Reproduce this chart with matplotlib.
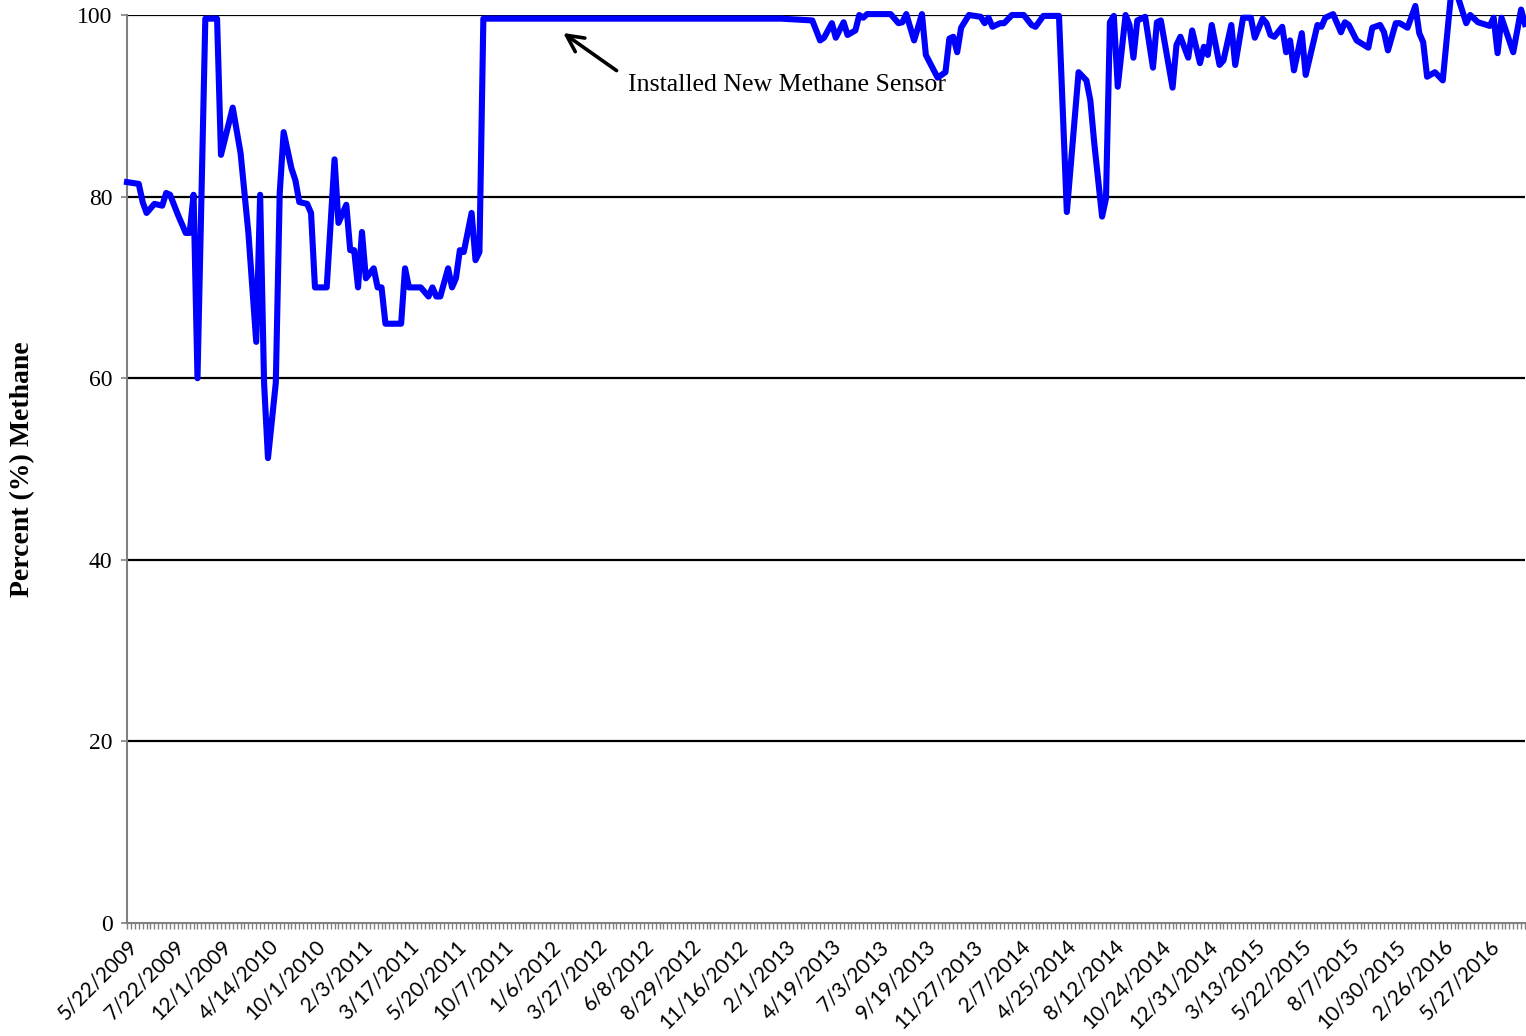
import matplotlib
matplotlib.use("Agg")
import matplotlib.pyplot as plt
import numpy as np

# sample index (one category per reading) and percent methane
idx = [0, 3, 4, 5, 7, 9, 10, 11, 13, 15, 16, 17, 18, 20, 23, 24, 27, 29, 31, 33,
       34, 35, 36, 38, 39, 40, 42, 43, 44, 46, 47, 48, 51, 53, 54, 56, 57, 58, 59, 60,
       61, 63, 64, 65, 66, 70, 71, 72, 75, 77, 78, 79, 80, 82, 83, 84, 85, 86, 88, 89,
       90, 91, 167, 175, 177, 178, 180, 181, 183, 184, 186, 187, 188, 189, 195, 197, 198, 199, 201, 203,
       204, 207, 209, 210, 211, 212, 213, 215, 218, 219, 220, 221, 223, 224, 226, 229, 231, 232, 234, 238,
       240, 243, 245, 246, 247, 249, 250, 251, 252, 253, 255, 256, 257, 258, 260, 262, 263, 264, 267, 268,
       269, 271, 272, 274, 275, 276, 277, 279, 280, 282, 283, 285, 287, 288, 290, 291, 292, 293, 295, 296,
       297, 298, 300, 301, 304, 305, 306, 308, 310, 311, 312, 314, 317, 318, 320, 321, 322, 324, 325, 327,
       329, 330, 331, 332, 334, 336, 338, 340, 342, 343, 345, 348, 349, 350, 351, 354, 356, 357]
pct = [81.6, 81.4, 79.4, 78.2, 79.2, 79.0, 80.4, 80.2, 78.0, 76.0, 76.0, 80.2, 60.0, 99.6, 99.6, 84.6, 89.8, 84.8, 76.0, 64.0,
       80.2, 59.5, 51.2, 59.5, 80.4, 87.1, 83.1, 81.8, 79.4, 79.2, 78.2, 70.0, 70.0, 84.1, 77.1, 79.1, 74.1, 74.1, 70.0, 76.1,
       71.0, 72.1, 70.0, 70.0, 66.0, 66.0, 72.1, 70.0, 70.0, 69.0, 70.0, 69.0, 69.0, 72.1, 70.0, 71.0, 74.1, 73.9, 78.2, 73.0,
       73.9, 99.6, 99.6, 99.4, 97.2, 97.5, 99.1, 97.5, 99.2, 97.8, 98.3, 100.0, 99.7, 100.1, 100.1, 99.1, 99.2, 100.1, 97.2, 100.1,
       95.6, 93.1, 93.7, 97.4, 97.6, 95.9, 98.6, 100.0, 99.8, 99.1, 99.7, 98.7, 99.1, 99.1, 100.0, 100.0, 98.9, 98.7, 99.9, 99.9,
       78.3, 93.7, 92.8, 90.6, 85.9, 77.8, 79.8, 99.2, 99.9, 92.1, 100.0, 98.9, 95.3, 99.4, 99.8, 94.2, 99.2, 99.4, 92.0, 96.7,
       97.6, 95.3, 98.3, 94.7, 96.5, 95.6, 98.9, 94.5, 95.0, 98.9, 94.5, 99.7, 99.7, 97.5, 99.6, 99.1, 97.8, 97.6, 98.7, 95.9,
       97.2, 93.9, 98.0, 93.4, 98.9, 98.7, 99.7, 100.1, 98.1, 99.2, 98.9, 97.2, 96.4, 98.6, 98.9, 98.1, 96.1, 99.1, 99.1, 98.6,
       101.0, 98.0, 97.0, 93.2, 93.7, 92.8, 101.8, 101.8, 99.1, 100.0, 99.2, 98.8, 99.7, 95.8, 99.7, 95.9, 100.6, 99.0]

n_cat = 358
label_step = 12
date_labels = ["5/22/2009", "7/22/2009", "12/1/2009", "4/14/2010", "10/1/2010", "2/3/2011",
               "3/17/2011", "5/20/2011", "10/7/2011", "1/6/2012", "3/27/2012", "6/8/2012",
               "8/29/2012", "11/16/2012", "2/1/2013", "4/19/2013", "7/3/2013", "9/19/2013",
               "11/27/2013", "2/7/2014", "4/25/2014", "8/12/2014", "10/24/2014", "12/31/2014",
               "3/13/2015", "5/22/2015", "8/7/2015", "10/30/2015", "2/26/2016", "5/27/2016"]

fig = plt.figure(figsize=(15.26, 10.36), dpi=100)
ax = fig.add_axes([127/1526, 113/1036, 1398/1526, 908/1036])

for v in [20, 40, 60, 80, 100]:
    ax.axhline(v, color='black', lw=1.6, zorder=1)

ax.plot(idx, pct, color='#0000ff', lw=4.4, solid_joinstyle='round', clip_on=False, zorder=3)

ax.set_xlim(0, n_cat - 1)
ax.set_ylim(0, 100)

ax.spines['top'].set_visible(False)
ax.spines['right'].set_visible(False)
ax.spines['left'].set_color('#808080')
ax.spines['bottom'].set_color('#808080')
ax.spines['left'].set_linewidth(1.5)
ax.spines['bottom'].set_linewidth(1.5)

ax.set_yticks([0, 20, 40, 60, 80, 100])
ax.set_yticklabels(['0', '20', '40', '60', '80', '100'], family='Liberation Serif', fontsize=17)
ax.tick_params(axis='y', length=4.5, width=1.2, color='#808080', pad=6)

ax.set_xticks(np.arange(0, n_cat, label_step))
ax.set_xticklabels(date_labels, rotation=45, ha='right', rotation_mode='anchor',
                   family='Lato', fontsize=15)
ax.set_xticks(np.arange(0, n_cat), minor=True)
ax.tick_params(axis='x', which='both', length=4.5, width=1.0, color='#808080', pad=5)

ax.set_ylabel('Percent (%) Methane', family='Liberation Serif', fontweight='bold', fontsize=20)
ax.yaxis.set_label_coords(-0.066, 0.5)

ax.annotate('', xy=(110.8, 98.2), xytext=(125.6, 93.7),
            arrowprops=dict(arrowstyle='->', lw=2.6, color='black', mutation_scale=30))
ax.text(128, 92.3, 'Installed New Methane Sensor', family='Liberation Serif', fontsize=18.6,
        va='center', ha='left', zorder=2)

fig.savefig('out.png', dpi=100)
